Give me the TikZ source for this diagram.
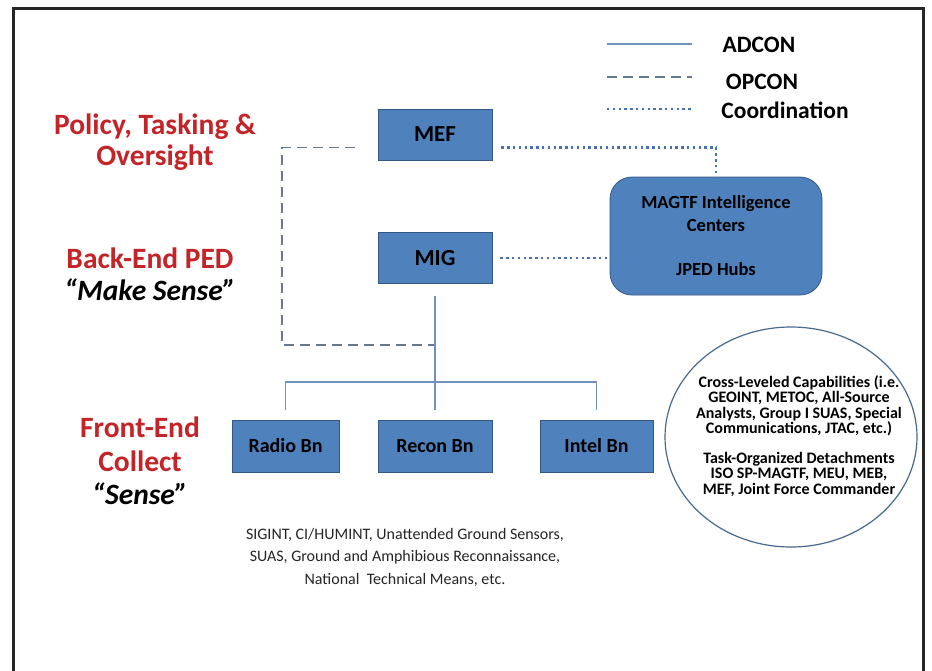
\documentclass[tikz,border=0pt]{standalone}
\usepackage{fontspec}
\setmainfont{Carlito}
\usetikzlibrary{positioning}
\usetikzlibrary{shapes.geometric}
\definecolor{unitblue}{RGB}{79,129,189}
\definecolor{unitedge}{RGB}{52,88,132}
\definecolor{tierred}{RGB}{196,36,40}
\definecolor{adconblue}{RGB}{112,146,190}
\definecolor{opcongray}{RGB}{104,120,146}
\definecolor{coordblue}{RGB}{72,112,180}
\tikzset{
unit/.style={ % Blue boxes for the units
draw=unitedge,
fill=unitblue,
line width=0.8pt,
minimum width=114pt,
minimum height=51pt,
font=\bfseries\fontsize{20}{24}\selectfont},
tier/.style={ % Red headings on the left
align=center,
text=tierred,
font=\bfseries\fontsize{29.5}{32}\selectfont},
legendtext/.style={font=\bfseries\fontsize{23.5}{26}\selectfont},
adcon/.style={draw=adconblue, line width=1.2pt}, % Solid lines
opcon/.style={draw=opcongray, line width=1.4pt, dash pattern=on 10pt off 6pt},
coord/.style={draw=coordblue, line width=2.6pt, dash pattern=on 2.4pt off 3.4pt}}

\begin{document}
\begin{tikzpicture}[x=1pt, y=-1pt]
\useasboundingbox (0,0) rectangle (932,670);
\fill[white] (0,0) rectangle (932,670);
\draw[line width=3pt, black!85] (13,690) -- (13,8) -- (923,8) -- (923,690);
% legend
\coordinate (adconA) at (607,44);
\coordinate (adconB) at (692,44);
\coordinate (opconA) at (607,77);
\coordinate (opconB) at (692,77);
\coordinate (coordA) at (607,109);
\coordinate (coordB) at (692,109);
\draw[adcon] (adconA) -- (adconB);
\draw[opcon] (opconA) -- (opconB);
\draw[coord] (coordA) -- (coordB);
\node[legendtext] (adconlbl) at (759,45) {ADCON};
\node[legendtext] (opconlbl) at (762,82) {OPCON};
\node[legendtext] (coordlbl) at (785,110) {Coordination};
% tiers
\node[tier, font=\bfseries\fontsize{29.5}{31}\selectfont] (policy) at (155,142) {Policy, Tasking \&\\Oversight};
\node[tier] (backend) at (150,274) {Back-End PED\\{\color{black}\itshape “Make Sense”}};
\node[tier, font=\bfseries\fontsize{29.5}{33.5}\selectfont] (frontend) at (140,461) {Front-End\\Collect\\{\color{black}\itshape “Sense”}};
% units
\node[unit, font=\bfseries\fontsize{23}{26}\selectfont] (mef) at (435,134.5) {MEF};
\node[unit, font=\bfseries\fontsize{23}{26}\selectfont] (mig) at (435,258) {MIG};
\node[unit, minimum width=107pt, minimum height=52pt] (radio) at (285.5,446) {Radio Bn};
\node[unit, minimum height=52pt] (recon) at (435,446) {Recon Bn};
\node[unit, minimum width=113pt, minimum height=52pt] (intel) at (596.5,446) {Intel Bn};
\node[unit, rounded corners=22pt, minimum width=212pt, minimum height=118pt, align=center, font=\bfseries\fontsize{18.5}{22.3}\selectfont] (magtf) at (716,236) {MAGTF Intelligence\\Centers\\ \\JPED Hubs};
\node[ellipse, draw=unitedge!90, line width=1.2pt, minimum width=252pt, minimum height=220pt] (caps) at (791,437) {};
\node[align=center, font=\bfseries\fontsize{16}{15.2}\selectfont] (capstext) at ([xshift=8pt, yshift=1pt]caps.center) {Cross-Leveled Capabilities (i.e.\\GEOINT, METOC, All-Source\\Analysts, Group I SUAS, Special\\Communications, JTAC, etc.)\\ \\Task-Organized Detachments\\ISO SP-MAGTF, MEU, MEB,\\MEF, Joint Force Commander};
\node[align=center, text=black!85, font=\fontsize{16}{22.5}\selectfont] (sensors) at (405,557) {SIGINT, CI/HUMINT, Unattended Ground Sensors,\\SUAS, Ground and Amphibious Reconnaissance,\\National~ Technical Means, etc.};
% lines
\coordinate (opcorner) at (282,345);
\coordinate (opjoin) at (435,345);
\coordinate (bus) at (435,382);
\draw[coord, shorten <=9pt] ([yshift=-13pt]mef.east) -| (magtf.north);
\draw[coord, shorten <=8pt] (mig.east) -- (mig.east -| magtf.west);
\draw[opcon, shorten <=23pt] ([yshift=-13pt]mef.west) -| (opcorner) -- (opjoin);
\draw[adcon, shorten <=12pt, shorten >=10pt] (mig.south) -- (recon.north);
\draw[adcon] ([yshift=10pt]radio.north) |- (bus) -| ([yshift=10pt]intel.north);
\end{tikzpicture}
\end{document}
